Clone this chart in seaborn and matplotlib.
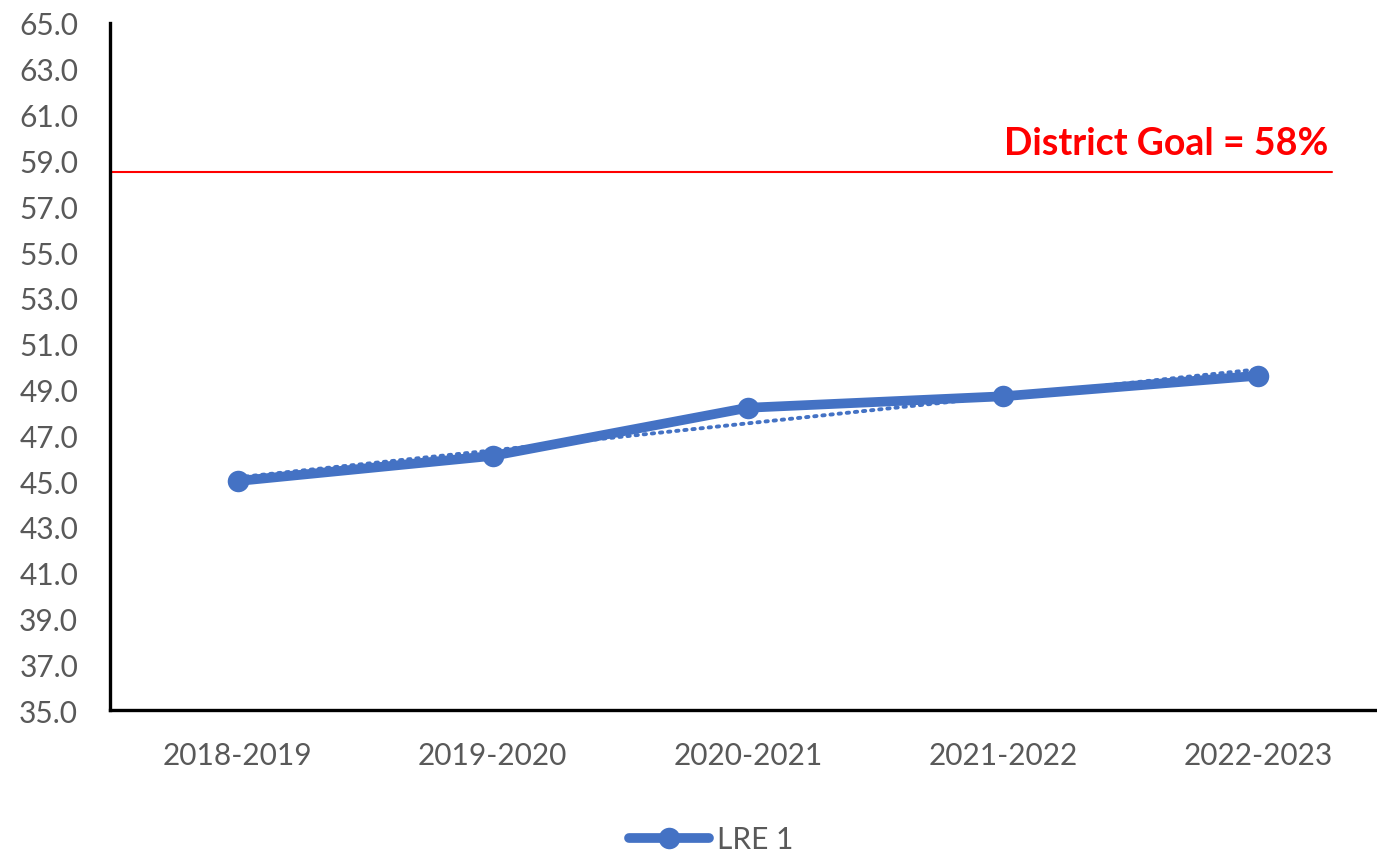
import numpy as np
import pandas as pd
import matplotlib
matplotlib.use("Agg")
import matplotlib.pyplot as plt
from matplotlib.lines import Line2D
import seaborn as sns

# School years and LRE 1 percentages
years = ["2018-2019", "2019-2020", "2020-2021", "2021-2022", "2022-2023"]
lre1 = [45.0, 46.1, 48.2, 48.7, 49.6]
goal_value = 58.5
goal_label = "District Goal = 58%"
series_name = "LRE 1"

BLUE = "#4472C4"
GRAY = "#595959"

sns.set_theme(style="white")
plt.rcParams["font.family"] = ["Lato", "DejaVu Sans"]

df = pd.DataFrame({"idx": np.arange(len(years)), "value": lre1})

fig = plt.figure(figsize=(13.77, 8.54), dpi=100)
ax = fig.add_axes([0.0799, 0.1674, 0.9266, 0.8045])

# Linear trend (dotted) underneath the series
sns.regplot(data=df, x="idx", y="value", ax=ax, scatter=False, ci=None,
            line_kws=dict(color=BLUE, lw=2.8, ls=(0, (0.6, 1.5)),
                          dash_capstyle="round", zorder=2))

# Main series
sns.lineplot(data=df, x="idx", y="value", ax=ax, color=BLUE, lw=7,
             marker="o", markersize=15.5, markeredgewidth=0,
             solid_capstyle="round", zorder=3, legend=False)

# District goal line and label
ax.axhline(goal_value, xmin=0, xmax=0.958, color="#FF0000", lw=1.5, zorder=1)
ax.text(0.955, goal_value + 0.8, goal_label, transform=ax.get_yaxis_transform(),
        ha="right", va="baseline", color="#FF0000", fontsize=27, fontweight="bold")

ax.set_xlim(-0.5, len(years) - 0.5)
ax.set_ylim(35, 65)
ax.set_yticks(np.arange(35, 65.1, 2))
ax.set_yticklabels([f"{v:.1f}" for v in np.arange(35, 65.1, 2)])
ax.set_xticks(df["idx"])
ax.set_xticklabels(years)
ax.set_xlabel("")
ax.set_ylabel("")
ax.tick_params(axis="y", length=0, pad=23, labelsize=21.5, labelcolor=GRAY)
ax.tick_params(axis="x", length=0, pad=22, labelsize=21.5, labelcolor=GRAY)

for side in ["top", "right"]:
    ax.spines[side].set_visible(False)
for side in ["left", "bottom"]:
    ax.spines[side].set_color("black")
    ax.spines[side].set_linewidth(2.4)
ax.grid(False)

handle = Line2D([], [], color=BLUE, lw=7, marker="o", markersize=15.5,
                markeredgewidth=0, solid_capstyle="round")
fig.legend([handle], [series_name], loc="center",
           bbox_to_anchor=(711 / 1377, 1 - 840 / 854), frameon=False,
           fontsize=21.5, labelcolor=GRAY, handlelength=2.7,
           handletextpad=0.25)

fig.savefig("out.png", dpi=100, facecolor="white")
